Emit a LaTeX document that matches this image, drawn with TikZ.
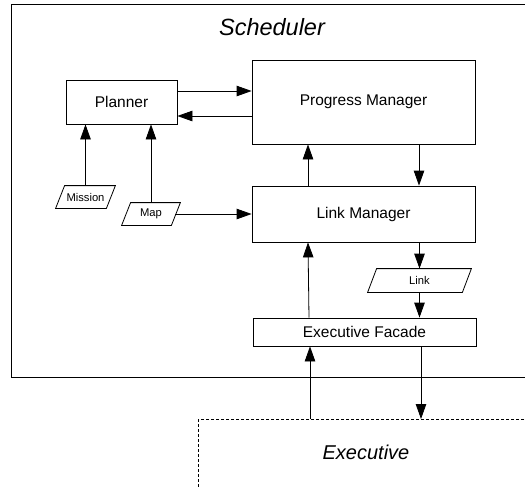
\documentclass[tikz,border=0pt]{standalone}
\usepackage{fontspec}
\setmainfont{Liberation Sans}
\usetikzlibrary{arrows.meta,calc}
\begin{document}
\begin{tikzpicture}[x=1pt,y=-1pt,
  line width=0.8pt,
  arr/.style={-{Triangle[length=15pt,width=10.5pt]}},
  blockbox/.style={draw,rectangle,inner sep=0pt,font=\fontsize{15.5}{18}\selectfont},
  databox/.style={rectangle,inner sep=0pt,font=\fontsize{11.2}{13}\selectfont},
  title/.style={anchor=base,font=\fontsize{23.5}{27}\selectfont\itshape}]
\clip (0,0) rectangle (525,488);
\fill[white] (0,0) rectangle (525,488);
% containers
\draw (11,4) rectangle (560,377);
\node[title] (sched) at (272,35) {Scheduler};
\draw[dashed,dash pattern=on 3pt off 2pt] (198,419) rectangle (560,520);
\node[title,font=\fontsize{20}{24}\selectfont\itshape] (exec) at (366,459) {Executive};
% blocks
\node[blockbox,minimum width=111,minimum height=44] (planner) at (121.5,102) {Planner};
\node[blockbox,minimum width=223,minimum height=84] (pm) at (363.5,102) {Progress Manager};
\node[blockbox,minimum width=223,minimum height=56] (lm) at (363.5,214) {Link Manager};
\node[blockbox,minimum width=223,minimum height=28] (ef) at (364.5,332) {Executive Facade};
% data
\node[databox,minimum width=59,minimum height=22] (mission) at (85.5,197) {Mission};
\node[databox,minimum width=58,minimum height=22] (map) at (151,214) {Map};
\node[databox,minimum width=103,minimum height=23] (link) at (419.5,280.5) {Link};
\foreach \n in {mission,map,link}{
  \draw (\n.south west) -- ($(\n.north west)+(9,0)$) -- (\n.north east) -- ($(\n.south east)+(-9,0)$) -- cycle;
}
% coordinates on executive
\coordinate (exup) at (310,419);
\coordinate (exdown) at (421,419);
% connectors
\draw[arr] ($(planner.east)+(0,-11)$) -- ($(pm.west)+(0,-11)$);
\draw[arr] ($(pm.west)+(0,14)$) -- ($(planner.east)+(0,14)$);
\draw[arr] (mission.north) -- (mission.north |- planner.south);
\draw[arr] (map.north) -- (map.north |- planner.south);
\draw[arr] ($(map.east)+(-5,0)$) -- (lm.west);
\draw[arr] ($(lm.north)+(-55.5,0)$) -- ($(pm.south)+(-55.5,0)$);
\draw[arr] ($(pm.south)+(55.5,0)$) -- ($(lm.north)+(55.5,0)$);
\draw[arr] ($(lm.south)+(56,0)$) -- (link.north);
\draw[arr] (link.south) -- (link.south |- ef.north);
\draw[arr] ($(ef.north)+(-55.5,0)$) -- ($(lm.south)+(-55.5,0)$);
\draw[arr] (exup) -- (exup |- ef.south);
\draw[arr] (exdown |- ef.south) -- (exdown);
\end{tikzpicture}
\end{document}
